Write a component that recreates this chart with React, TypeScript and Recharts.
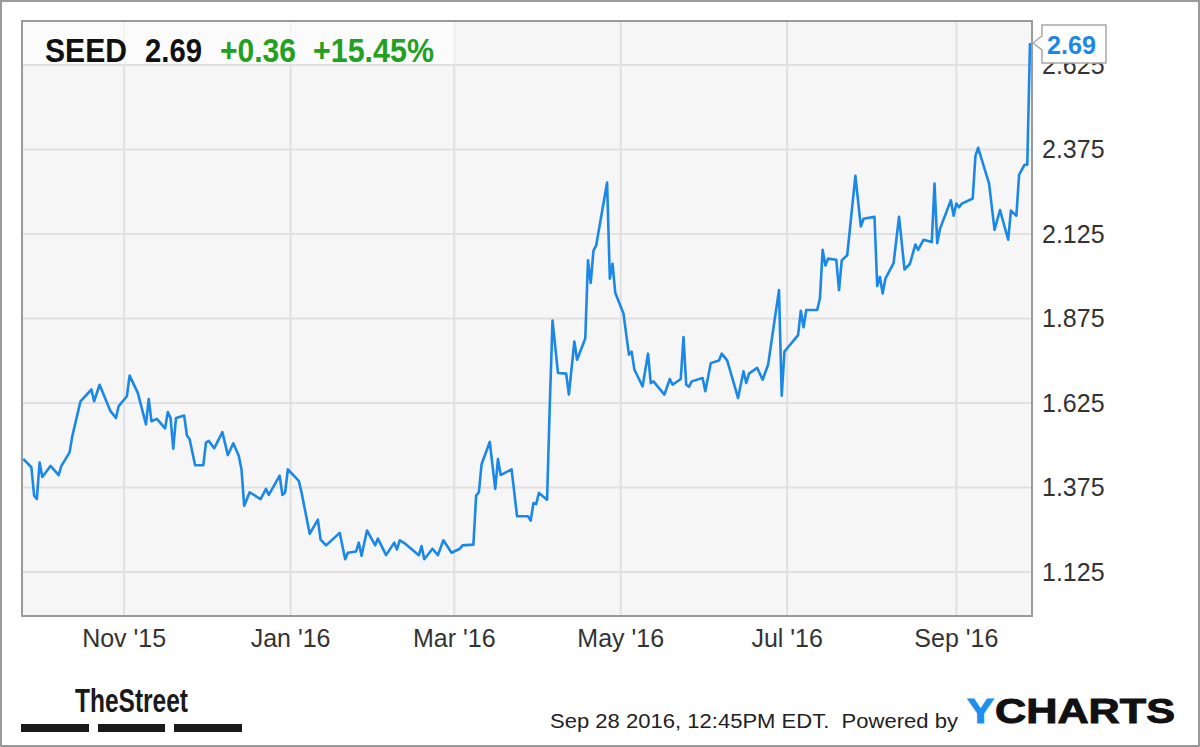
import React from 'react';
import { LineChart, Line, XAxis, YAxis, CartesianGrid, ReferenceDot } from 'recharts';

const ticker = 'SEED';
const lastPriceLabel = '2.69';
const changeLabel = '+0.36';
const changePctLabel = '+15.45%';
const timestampLabel = 'Sep 28 2016, 12:45PM EDT.  Powered by';

const dates = [
  '2015-09-25', '2015-09-28', '2015-09-29', '2015-09-30', '2015-10-01', '2015-10-02', '2015-10-05', '2015-10-08',
  '2015-10-09', '2015-10-12', '2015-10-13', '2015-10-16', '2015-10-20', '2015-10-21', '2015-10-23', '2015-10-27',
  '2015-10-29', '2015-10-30', '2015-11-02', '2015-11-03', '2015-11-06', '2015-11-09', '2015-11-10', '2015-11-11',
  '2015-11-13', '2015-11-16', '2015-11-17', '2015-11-18', '2015-11-19', '2015-11-20', '2015-11-23', '2015-11-24',
  '2015-11-25', '2015-11-27', '2015-11-30', '2015-12-01', '2015-12-02', '2015-12-04', '2015-12-07', '2015-12-09',
  '2015-12-11', '2015-12-13', '2015-12-14', '2015-12-15', '2015-12-17', '2015-12-21', '2015-12-23', '2015-12-24',
  '2015-12-28', '2015-12-29', '2015-12-30', '2015-12-31', '2016-01-04', '2016-01-05', '2016-01-08', '2016-01-11',
  '2016-01-12', '2016-01-14', '2016-01-19', '2016-01-21', '2016-01-22', '2016-01-25', '2016-01-26', '2016-01-27',
  '2016-01-29', '2016-02-01', '2016-02-02', '2016-02-05', '2016-02-08', '2016-02-09', '2016-02-10', '2016-02-12',
  '2016-02-17', '2016-02-18', '2016-02-19', '2016-02-22', '2016-02-24', '2016-02-26', '2016-02-29', '2016-03-03',
  '2016-03-04', '2016-03-08', '2016-03-09', '2016-03-10', '2016-03-11', '2016-03-14', '2016-03-16', '2016-03-17',
  '2016-03-18', '2016-03-22', '2016-03-24', '2016-03-28', '2016-03-29', '2016-03-30', '2016-03-31', '2016-04-01',
  '2016-04-04', '2016-04-05', '2016-04-06', '2016-04-08', '2016-04-11', '2016-04-12', '2016-04-14', '2016-04-15',
  '2016-04-18', '2016-04-19', '2016-04-20', '2016-04-21', '2016-04-22', '2016-04-26', '2016-04-27', '2016-04-28',
  '2016-04-29', '2016-05-02', '2016-05-04', '2016-05-05', '2016-05-06', '2016-05-09', '2016-05-11', '2016-05-12',
  '2016-05-13', '2016-05-17', '2016-05-18', '2016-05-19', '2016-05-20', '2016-05-23', '2016-05-24', '2016-05-25',
  '2016-05-26', '2016-05-27', '2016-05-31', '2016-06-01', '2016-06-03', '2016-06-06', '2016-06-07', '2016-06-09',
  '2016-06-13', '2016-06-15', '2016-06-16', '2016-06-17', '2016-06-20', '2016-06-22', '2016-06-24', '2016-06-28',
  '2016-06-29', '2016-06-30', '2016-07-01', '2016-07-05', '2016-07-06', '2016-07-07', '2016-07-08', '2016-07-12',
  '2016-07-13', '2016-07-14', '2016-07-15', '2016-07-16', '2016-07-19', '2016-07-20', '2016-07-21', '2016-07-23',
  '2016-07-26', '2016-07-28', '2016-07-29', '2016-08-02', '2016-08-03', '2016-08-04', '2016-08-05', '2016-08-06',
  '2016-08-09', '2016-08-11', '2016-08-13', '2016-08-15', '2016-08-17', '2016-08-18', '2016-08-20', '2016-08-23',
  '2016-08-24', '2016-08-25', '2016-08-26', '2016-08-30', '2016-08-31', '2016-09-01', '2016-09-02', '2016-09-03',
  '2016-09-07', '2016-09-08', '2016-09-09', '2016-09-13', '2016-09-15', '2016-09-17', '2016-09-20', '2016-09-21',
  '2016-09-23', '2016-09-24', '2016-09-26', '2016-09-27', '2016-09-28',
];

const prices = [
  1.46, 1.435, 1.351, 1.341, 1.449, 1.406, 1.439, 1.412,
  1.439, 1.479, 1.527, 1.63, 1.665, 1.63, 1.679, 1.601,
  1.581, 1.616, 1.645, 1.706, 1.655, 1.562, 1.637, 1.571,
  1.578, 1.55, 1.598, 1.581, 1.49, 1.581, 1.588, 1.529,
  1.518, 1.441, 1.441, 1.508, 1.513, 1.491, 1.539, 1.471,
  1.506, 1.469, 1.429, 1.321, 1.361, 1.341, 1.371, 1.353,
  1.41, 1.353, 1.361, 1.429, 1.395, 1.361, 1.238, 1.28,
  1.221, 1.204, 1.241, 1.163, 1.182, 1.186, 1.212, 1.173,
  1.248, 1.204, 1.224, 1.175, 1.212, 1.192, 1.219, 1.209,
  1.175, 1.202, 1.163, 1.194, 1.175, 1.219, 1.182, 1.194,
  1.204, 1.206, 1.351, 1.361, 1.444, 1.51, 1.371, 1.459,
  1.412, 1.429, 1.29, 1.29, 1.277, 1.329, 1.326, 1.359,
  1.339, 1.62, 1.869, 1.714, 1.712, 1.65, 1.807, 1.753,
  1.816, 2.047, 1.98, 2.076, 2.091, 2.277, 1.993, 2.037,
  1.951, 1.89, 1.768, 1.777, 1.724, 1.674, 1.771, 1.684,
  1.689, 1.65, 1.673, 1.696, 1.679, 1.696, 1.82, 1.679,
  1.673, 1.689, 1.699, 1.66, 1.743, 1.751, 1.771, 1.751,
  1.64, 1.719, 1.684, 1.712, 1.729, 1.694, 1.738, 1.959,
  1.647, 1.777, 1.787, 1.826, 1.898, 1.849, 1.9, 1.9,
  1.934, 2.078, 2.032, 2.052, 2.049, 1.959, 2.047, 2.062,
  2.297, 2.147, 2.17, 2.176, 1.971, 1.998, 1.949, 1.993,
  2.039, 2.176, 2.02, 2.037, 2.094, 2.078, 2.108, 2.101,
  2.274, 2.098, 2.14, 2.225, 2.179, 2.215, 2.204, 2.215,
  2.23, 2.356, 2.38, 2.274, 2.137, 2.196, 2.108, 2.194,
  2.179, 2.3, 2.33, 2.33, 2.69,
];

const yTicks = [1.125, 1.375, 1.625, 1.875, 2.125, 2.375, 2.625];
const yDomain = [0.995, 2.755];
const xTickDates = ['2015-11-01', '2016-01-01', '2016-03-01', '2016-05-01', '2016-07-01', '2016-09-01'];
const xTickLabels = ["Nov '15", "Jan '16", "Mar '16", "May '16", "Jul '16", "Sep '16"];

const DAY = 86400000;
const toT = (s: string) => Date.parse(s + 'T00:00:00Z');
const data = dates.map((d, i) => ({ t: toT(d), price: prices[i] }));
const xTicks = xTickDates.map(toT);
const xDomain = [toT(dates[0]) - 0.44 * DAY, toT(dates[dates.length - 1]) + 0.73 * DAY];
const last = data[data.length - 1];

const LINE = '#1b88e8';
const GREEN = '#22a022';
const FONT = '"Liberation Sans", Arial, sans-serif';

const PriceTag = (props: any) => {
  const { cx, cy } = props;
  if (cx == null || cy == null) return null;
  const d = `M ${cx + 12} ${cy - 18} H ${cx + 76} V ${cy + 20} H ${cx + 12} V ${cy + 7} L ${cx + 3} ${cy} L ${cx + 12} ${cy - 7} Z`;
  return (
    <g>
      <path d={d} fill="#ffffff" stroke="#a8a8a8" strokeWidth={1.5} />
      <text x={cx + 17} y={cy + 11} fontFamily={FONT} fontWeight="bold" fontSize={25} fill={LINE}
        textLength={49} lengthAdjust="spacingAndGlyphs">{lastPriceLabel}</text>
    </g>
  );
};

export default function App() {
  return (
    <div style={{ position: 'absolute', left: 0, top: 0, width: 1200, height: 747, background: '#ffffff', overflow: 'hidden' }}>
      <div style={{ position: 'absolute', left: 0, top: 0 }}>
        <LineChart width={1200} height={747} data={data} margin={{ top: 21, left: 22, right: 48, bottom: 91 }}>
          <CartesianGrid stroke="#e0e0e0" strokeWidth={2} fill="#f6f6f6" fillOpacity={1} />
          <XAxis
            type="number"
            dataKey="t"
            domain={xDomain}
            allowDataOverflow
            ticks={xTicks}
            interval={0}
            height={40}
            axisLine={false}
            tickLine={false}
            tickSize={6}
            tickMargin={7}
            tickFormatter={(v: number) => xTickLabels[xTicks.indexOf(v)] ?? ''}
            tick={{ fontSize: 25, fill: '#333333', fontFamily: FONT }}
          />
          <YAxis
            orientation="right"
            type="number"
            domain={yDomain}
            allowDataOverflow
            ticks={yTicks}
            interval={0}
            width={120}
            axisLine={false}
            tickLine={false}
            tickSize={6}
            tickMargin={4}
            tickFormatter={(v: number) => v.toFixed(3)}
            tick={{ fontSize: 25, fill: '#333333', fontFamily: FONT, textAnchor: 'start' }}
          />
          <Line
            type="linear"
            dataKey="price"
            stroke={LINE}
            strokeWidth={2.6}
            strokeLinejoin="round"
            dot={false}
            activeDot={false}
            isAnimationActive={false}
          />
        </LineChart>
      </div>
      <svg width={1200} height={747} style={{ position: 'absolute', left: 0, top: 0, pointerEvents: 'none' }}>
        <rect x={23} y={22} width={432} height={42} fill="#ffffff" fillOpacity={0.6} />
        <rect x={22} y={21} width={1010} height={595} fill="none" stroke="#9a9a9a" strokeWidth={2} />
        <text x={45} y={62} fontFamily={FONT} fontWeight="bold" fontSize={33} fill="#111111" textLength={82} lengthAdjust="spacingAndGlyphs">{ticker}</text>
        <text x={145} y={62} fontFamily={FONT} fontWeight="bold" fontSize={33} fill="#111111" textLength={57} lengthAdjust="spacingAndGlyphs">{lastPriceLabel}</text>
        <text x={220} y={62} fontFamily={FONT} fontWeight="bold" fontSize={33} fill={GREEN} textLength={76} lengthAdjust="spacingAndGlyphs">{changeLabel}</text>
        <text x={313} y={62} fontFamily={FONT} fontWeight="bold" fontSize={33} fill={GREEN} textLength={121} lengthAdjust="spacingAndGlyphs">{changePctLabel}</text>

        <text x={75} y={712} fontFamily={'"Liberation Sans Narrow", "Liberation Sans", Arial, sans-serif'} fontWeight="bold" fontSize={34} fill="#1a1a1a" textLength={113} lengthAdjust="spacingAndGlyphs">TheStreet</text>
        <rect x={21} y={724} width={68} height={8} fill="#1a1a1a" />
        <rect x={98} y={724} width={67} height={8} fill="#1a1a1a" />
        <rect x={174} y={724} width={68} height={8} fill="#1a1a1a" />

        <text x={550} y={728} fontFamily={FONT} fontSize={20} fill="#222222" textLength={408} lengthAdjust="spacingAndGlyphs" style={{ whiteSpace: 'pre' }}>{timestampLabel}</text>
        <text x={967} y={723} fontFamily={FONT} fontWeight="bold" fontSize={35} fill="#1e8fef" stroke="#1e8fef" strokeWidth={1} textLength={27} lengthAdjust="spacingAndGlyphs">Y</text>
        <text x={995} y={723} fontFamily={FONT} fontWeight="bold" fontSize={35} fill="#111111" stroke="#111111" strokeWidth={1} textLength={180} lengthAdjust="spacingAndGlyphs">CHARTS</text>

        <rect x={1} y={1} width={1198} height={745} fill="none" stroke="#9a9a9a" strokeWidth={2} />
      </svg>
      <div style={{ position: 'absolute', left: 0, top: 0, pointerEvents: 'none' }}>
        <LineChart width={1200} height={747} data={data} margin={{ top: 21, left: 22, right: 168, bottom: 131 }}>
          <XAxis type="number" dataKey="t" domain={xDomain} allowDataOverflow hide />
          <YAxis type="number" domain={yDomain} allowDataOverflow hide />
          <Line dataKey="price" stroke="none" dot={false} activeDot={false} isAnimationActive={false} />
          <ReferenceDot x={last.t} y={last.price} r={0} ifOverflow="visible" shape={PriceTag} />
        </LineChart>
      </div>
    </div>
  );
}
